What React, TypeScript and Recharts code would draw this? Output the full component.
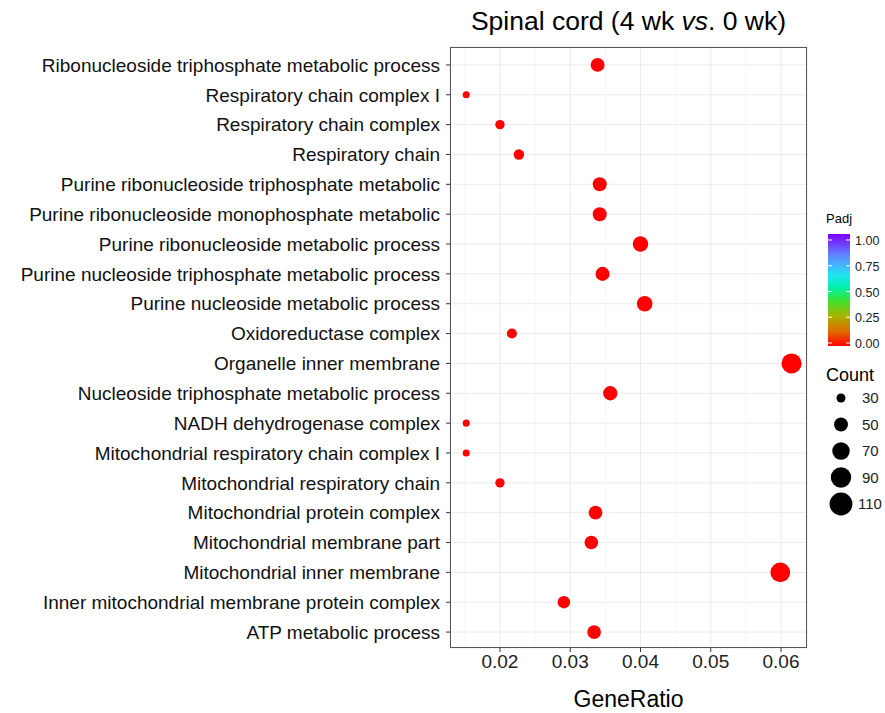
import React from 'react';
import { ScatterChart, Scatter, XAxis, YAxis, ZAxis, CartesianGrid, ReferenceLine, Cell } from 'recharts';

// GO terms, top to bottom as shown in the plot
const terms = [
  'Ribonucleoside triphosphate metabolic process',
  'Respiratory chain complex I',
  'Respiratory chain complex',
  'Respiratory chain',
  'Purine ribonucleoside triphosphate metabolic',
  'Purine ribonucleoside monophosphate metabolic',
  'Purine ribonucleoside metabolic process',
  'Purine nucleoside triphosphate metabolic process',
  'Purine nucleoside metabolic process',
  'Oxidoreductase complex',
  'Organelle inner membrane',
  'Nucleoside triphosphate metabolic process',
  'NADH dehydrogenase complex',
  'Mitochondrial respiratory chain complex I',
  'Mitochondrial respiratory chain',
  'Mitochondrial protein complex',
  'Mitochondrial membrane part',
  'Mitochondrial inner membrane',
  'Inner mitochondrial membrane protein complex',
  'ATP metabolic process',
];

const geneRatio = [
  0.0339, 0.0152, 0.0200, 0.0227, 0.0342, 0.0342, 0.0400, 0.0346, 0.0406, 0.0217,
  0.0615, 0.0357, 0.0152, 0.0152, 0.0200, 0.0336, 0.0330, 0.0599, 0.0291, 0.0334,
];

const counts = [61, 27, 36, 41, 62, 62, 72, 62, 73, 39, 111, 64, 27, 27, 36, 60, 59, 108, 52, 60];

const padj = [
  0.0004, 0.0021, 0.0009, 0.0006, 0.0003, 0.0004, 0.0001, 0.0003, 0.0001, 0.0012,
  0.00001, 0.0002, 0.0021, 0.0021, 0.0009, 0.0005, 0.0006, 0.00001, 0.0008, 0.0005,
];

const xTicks = [0.02, 0.03, 0.04, 0.05, 0.06];
const xMinor = [0.015, 0.025, 0.035, 0.045, 0.055];
const padjBreaks = [0, 0.25, 0.5, 0.75, 1];
const countBreaks = [30, 50, 70, 90, 110];

const FONT = '"Liberation Sans", Arial, Helvetica, sans-serif';
const X_DOMAIN: [number, number] = [0.01289, 0.0637];
const Z_DOMAIN: [number, number] = [20, 120];
const Z_RANGE: [number, number] = [15.7, 345.6];

const RAINBOW = [
  { o: 0, c: '#FF0000' },
  { o: 0.13, c: '#E06A00' },
  { o: 0.27, c: '#A8B400' },
  { o: 0.4, c: '#3FE02A' },
  { o: 0.52, c: '#00F0A8' },
  { o: 0.63, c: '#1FE6F2' },
  { o: 0.8, c: '#5C8CFF' },
  { o: 1, c: '#8000FF' },
];

const hex = (c: string) => [1, 3, 5].map(i => parseInt(c.slice(i, i + 2), 16));

const padjColor = (v: number) => {
  for (let i = 1; i < RAINBOW.length; i++) {
    if (v <= RAINBOW[i].o) {
      const a = RAINBOW[i - 1], b = RAINBOW[i];
      const t = (v - a.o) / (b.o - a.o);
      const ca = hex(a.c), cb = hex(b.c);
      const m = ca.map((x, k) => Math.round(x + (cb[k] - x) * t));
      return `rgb(${m[0]},${m[1]},${m[2]})`;
    }
  }
  return RAINBOW[RAINBOW.length - 1].c;
};

// same linear area mapping as the ZAxis, radius of a circle symbol
const sizeRadius = (v: number) => {
  const area = Z_RANGE[0] + ((v - Z_DOMAIN[0]) * (Z_RANGE[1] - Z_RANGE[0])) / (Z_DOMAIN[1] - Z_DOMAIN[0]);
  return Math.sqrt(area / Math.PI);
};

// bottom row first so the category axis runs bottom -> top
const data = terms
  .map((term, i) => ({ term, ratio: geneRatio[i], count: counts[i], padj: padj[i] }))
  .reverse();

function Legend() {
  const barTop = 234;
  const barH = 112;
  const labY = (v: number) => 343 - v * 103;
  return (
    <svg width={885} height={713} style={{ position: 'absolute', left: 0, top: 0, pointerEvents: 'none' }}>
      <defs>
        <linearGradient id="padjGrad" x1="0" y1="1" x2="0" y2="0">
          {RAINBOW.map(s => (
            <stop key={s.o} offset={s.o} stopColor={s.c} />
          ))}
        </linearGradient>
      </defs>
      <text x={826} y={223} fontSize={13} fontFamily={FONT} fill="#000">Padj</text>
      <rect x={828} y={barTop} width={22} height={barH} fill="url(#padjGrad)" />
      {padjBreaks.map(b => (
        <g key={b}>
          <line x1={828} x2={832} y1={labY(b)} y2={labY(b)} stroke="#fff" strokeWidth={1} />
          <line x1={846} x2={850} y1={labY(b)} y2={labY(b)} stroke="#fff" strokeWidth={1} />
          <text x={855} y={labY(b) + 5} fontSize={12.5} fontFamily={FONT} fill="#222">{b.toFixed(2)}</text>
        </g>
      ))}
      <text x={826} y={381} fontSize={18} fontFamily={FONT} fill="#000">Count</text>
      {countBreaks.map((c, i) => {
        const y = 398 + i * 26.5;
        return (
          <g key={c}>
            <circle cx={841} cy={y} r={sizeRadius(c) * 1.15} fill="#000" />
            <text x={c >= 100 ? 858 : 862} y={y + 5} fontSize={15} fontFamily={FONT} fill="#222">{c}</text>
          </g>
        );
      })}
    </svg>
  );
}

export default function App() {
  return (
    <div style={{ position: 'absolute', left: 0, top: 0, width: 885, height: 713, background: '#fff', overflow: 'hidden', fontFamily: FONT }}>
      <div style={{ position: 'absolute', left: 400, width: 457, top: 6, textAlign: 'center', fontSize: 26.5, color: '#000', whiteSpace: 'nowrap' }}>
        Spinal cord (4 wk <i>vs</i>. 0 wk)
      </div>
      <ScatterChart width={885} height={713} margin={{ top: 47, right: 78, bottom: 0, left: 0 }}>
        <CartesianGrid stroke="#EBEBEB" strokeWidth={1} />
        {xMinor.map(v => (
          <ReferenceLine key={v} x={v} stroke="#F5F5F5" strokeWidth={0.8} />
        ))}
        <XAxis
          type="number"
          dataKey="ratio"
          domain={X_DOMAIN}
          ticks={xTicks}
          allowDataOverflow
          height={65}
          axisLine={false}
          tickSize={4}
          tickMargin={3}
          tickLine={{ stroke: '#333' }}
          tick={{ fontSize: 19, fill: '#222', fontFamily: FONT }}
          tickFormatter={(v: number) => String(v)}
          label={{ value: 'GeneRatio', position: 'insideBottom', offset: 6, style: { fontSize: 23, fill: '#000', fontFamily: FONT } }}
        />
        <YAxis
          type="category"
          dataKey="term"
          width={450}
          interval={0}
          axisLine={false}
          tickSize={4}
          tickMargin={6}
          padding={{ top: 3, bottom: 1 }}
          tickLine={{ stroke: '#333' }}
          tick={{ fontSize: 19, fill: '#111', fontFamily: FONT }}
        />
        <ZAxis type="number" dataKey="count" domain={Z_DOMAIN} range={Z_RANGE} />
        <Scatter data={data} isAnimationActive={false}>
          {data.map((d, i) => (
            <Cell key={i} fill={padjColor(d.padj)} />
          ))}
        </Scatter>
      </ScatterChart>
      <div style={{ position: 'absolute', left: 450, top: 47, width: 357, height: 601, boxSizing: 'border-box', border: '1.2px solid #555', pointerEvents: 'none' }} />
      <Legend />
    </div>
  );
}
